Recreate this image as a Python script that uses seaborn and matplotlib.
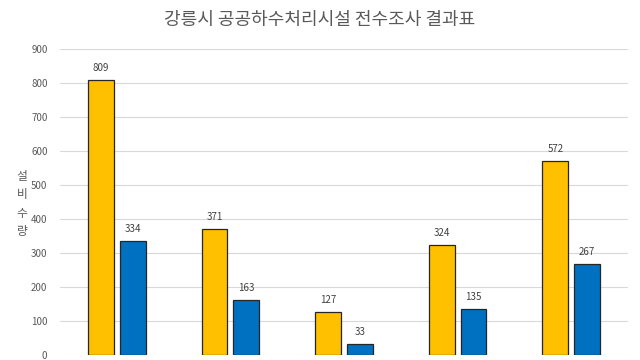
import numpy as np
import pandas as pd
import matplotlib
matplotlib.use('Agg')
import matplotlib.pyplot as plt
import seaborn as sns

# chart data (x category labels are cut off in the reference)
categories = ['1', '2', '3', '4', '5']
series_names = ['A', 'B']
values_a = [809, 371, 127, 324, 572]
values_b = [334, 163, 33, 135, 267]
y_ticks = [0, 100, 200, 300, 400, 500, 600, 700, 800, 900]

df = pd.DataFrame({
    'cat': categories * 2,
    'series': [series_names[0]] * len(categories) + [series_names[1]] * len(categories),
    'value': values_a + values_b,
})

sns.set_style('white')
plt.rcParams['font.family'] = ['Noto Sans CJK KR', 'DejaVu Sans']

fig = plt.figure(figsize=(6.4, 3.6), dpi=100)
ax = fig.add_axes([60 / 640, 5 / 360, 568 / 640, 306 / 360])

sns.barplot(data=df, x='cat', y='value', hue='series',
            palette=['#FFC000', '#0070C0'], saturation=1, width=0.56, gap=0.19,
            edgecolor='#262626', linewidth=0.9, legend=False, ax=ax)

for c in ax.containers:
    ax.bar_label(c, padding=5, fontsize=7, color='#404040')

ax.set_ylim(0, 900)
ax.set_xlim(-0.5, len(categories) - 0.5)
ax.set_yticks(y_ticks)
ax.yaxis.grid(True, color='#D9D9D9', linewidth=0.8)
ax.set_axisbelow(True)
ax.tick_params(axis='y', labelsize=7, labelcolor='#595959', length=0, pad=9)
ax.tick_params(axis='x', labelbottom=False, length=0)
ax.set_xlabel('')
ax.set_ylabel('')
for s in ax.spines.values():
    s.set_visible(False)

fig.text(0.5, 1 - 20 / 360, '강릉시 공공하수처리시설 전수조사 결과표',
         ha='center', va='center', fontsize=13, color='#595959')
fig.text(22 / 640, 1 - 204 / 360, '설\n비\n수\n량',
         ha='center', va='center', fontsize=8.5, color='#595959', linespacing=1.55)

fig.savefig('out.png', dpi=100)
